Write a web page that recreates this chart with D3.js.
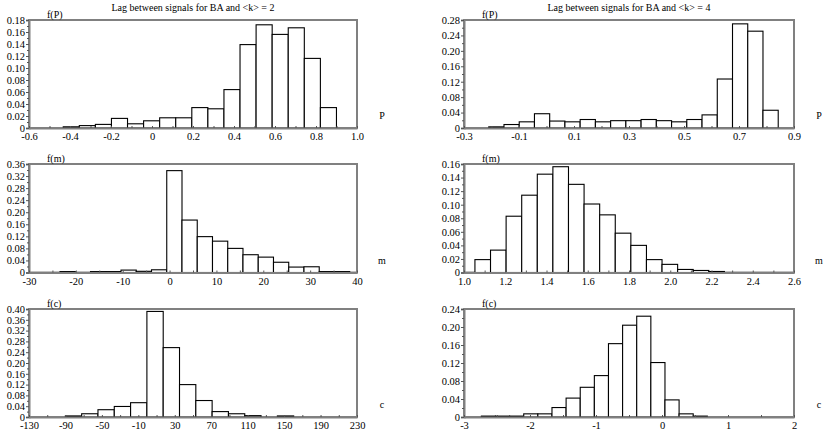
<!DOCTYPE html>
<html>
<head>
<meta charset="utf-8">
<script src="https://cdn.jsdelivr.net/npm/d3@7"></script>
<style>
body{margin:0;background:#fff;}
svg, svg text{font-family:"Liberation Serif","Times New Roman","DejaVu Serif",serif !important;}
</style>
</head>
<body>
<div id="chart"></div>
<script>
// histogram heights, one array per panel
var lag2P = [0.002,0.004,0.006,0.016,0.007,0.012,0.017,0.017,0.034,0.032,0.064,0.139,0.172,0.156,0.167,0.116,0.034];
var lag4P = [0.003,0.009,0.016,0.037,0.018,0.016,0.022,0.016,0.019,0.019,0.022,0.019,0.016,0.022,0.034,0.127,0.270,0.251,0.046];
var lag2M = [0.003,0,0.003,0.003,0.008,0.004,0.009,0.338,0.174,0.119,0.104,0.080,0.059,0.051,0.034,0.018,0.019,0.003,0.003];
var lag4M = [0.019,0.033,0.083,0.114,0.145,0.156,0.130,0.101,0.085,0.058,0.040,0.019,0.012,0.0045,0.003,0.0015];
var lag2C = [0.004,0.012,0.027,0.039,0.053,0.391,0.257,0.120,0.061,0.020,0.012,0.005,0,0.004];
var lag4C = [0.002,0.002,0.002,0.007,0.007,0.021,0.042,0.066,0.092,0.163,0.204,0.224,0.121,0.038,0.007,0.002];

// first bin edge and bin width
var binStart = [-0.433, -0.210, -23.38, 1.053, -90.1, -2.737];
var binWidth = [0.0784, 0.0554, 3.254, 0.0756, 17.9, 0.214];

// tick labels
var xTicksP2 = [-0.6,-0.4,-0.2,0,0.2,0.4,0.6,0.8,1.0];
var xTicksP4 = [-0.3,-0.1,0.1,0.3,0.5,0.7,0.9];
var xTicksM2 = [-30,-20,-10,0,10,20,30,40];
var xTicksM4 = [1.0,1.2,1.4,1.6,1.8,2.0,2.2,2.4,2.6];
var xTicksC2 = [-130,-90,-50,-10,30,70,110,150,190,230];
var xTicksC4 = [-3,-2,-1,0,1,2];
var yMax = [0.18, 0.28, 0.36, 0.16, 0.40, 0.24];
var yStep = [0.02, 0.04, 0.04, 0.02, 0.04, 0.04];

var titles = ["Lag between signals for BA and <k> = 2", "Lag between signals for BA and <k> = 4"];
var yNames = ["f(P)", "f(P)", "f(m)", "f(m)", "f(c)", "f(c)"];
var xNames = ["P", "P", "m", "m", "c", "c"];

var values = [lag2P, lag4P, lag2M, lag4M, lag2C, lag4C];
var xTicks = [xTicksP2, xTicksP4, xTicksM2, xTicksM4, xTicksC2, xTicksC4];
var xDec = [1, 1, 0, 1, 0, 0];

var cols = [[29, 357], [464, 794]];
var rows = [[20, 128], [164, 272.5], [309, 417]];

var width = 830, height = 433;
var serif = "'Liberation Serif','Times New Roman','DejaVu Serif',serif";
var svg = d3.select("#chart").append("svg").attr("width", width).attr("height", height)
	.style("font-family", serif);

function fmtX(dec) {
	return function(d) { return d === 0 ? "0" : d.toFixed(dec); };
}
function fmtY(d) {
	return Math.abs(d) < 1e-9 ? "0" : d.toFixed(2);
}

for (var p = 0; p < 6; p++) {
	var c = cols[p % 2], r = rows[Math.floor(p / 2)];
	var ticks = xTicks[p];
	var x = d3.scaleLinear().domain([ticks[0], ticks[ticks.length - 1]]).range([c[0], c[1]]);
	var y = d3.scaleLinear().domain([0, yMax[p]]).range([r[1], r[0]]);
	var g = svg.append("g");

	var bins = values[p].map(function(v, i) {
		return { x0: binStart[p] + i * binWidth[p], x1: binStart[p] + (i + 1) * binWidth[p], v: v };
	});

	// frame
	g.append("rect")
		.attr("x", c[0]).attr("y", r[0])
		.attr("width", c[1] - c[0]).attr("height", r[1] - r[0])
		.attr("fill", "none").attr("stroke", "#808080").attr("stroke-width", 2);

	// bars
	g.selectAll(".bar").data(bins.filter(function(d) { return d.v > 0; })).enter().append("rect")
		.attr("class", "bar")
		.attr("x", function(d) { return x(d.x0); })
		.attr("y", function(d) { return y(d.v); })
		.attr("width", function(d) { return x(d.x1) - x(d.x0); })
		.attr("height", function(d) { return y(0) - y(d.v); })
		.attr("fill", "#fff").attr("stroke", "#000").attr("stroke-width", 1.1);

	// y axis: labelled ticks plus half-step minor ticks
	var yt = d3.range(0, yMax[p] + yStep[p] / 2, yStep[p]);
	var ym = d3.range(yStep[p] / 2, yMax[p], yStep[p]);
	g.append("g").attr("transform", "translate(" + c[0] + ",0)")
		.call(d3.axisLeft(y).tickValues(yt).tickSize(3).tickPadding(1).tickFormat(fmtY));
	g.append("g").attr("transform", "translate(" + c[0] + ",0)")
		.call(d3.axisLeft(y).tickValues(ym).tickSize(2).tickFormat(""))
		.select(".domain").remove();

	// x axis: small inward ticks
	var xm = [];
	for (var k = 0; k < ticks.length - 1; k++) xm.push((ticks[k] + ticks[k + 1]) / 2);
	g.append("g").attr("transform", "translate(0," + r[1] + ")")
		.call(d3.axisBottom(x).tickValues(ticks).tickSizeInner(-2).tickSizeOuter(0).tickPadding(5).tickFormat(fmtX(xDec[p])));
	g.append("g").attr("transform", "translate(0," + r[1] + ")")
		.call(d3.axisBottom(x).tickValues(xm).tickSizeInner(-2).tickSizeOuter(0).tickFormat(""))
		.select(".domain").remove();

	g.selectAll("g").attr("font-family", null);
	g.selectAll(".domain").attr("stroke", "#808080").attr("stroke-width", 2);
	g.selectAll(".tick line").attr("stroke", "#555");
	g.selectAll(".tick text").style("font-family", serif)
		.attr("font-size", 10.5).attr("fill", "#000");

	// labels
	g.append("text").attr("x", c[0] + 18).attr("y", r[0] - 2)
		.attr("font-size", 10).text(yNames[p]);
	g.append("text").attr("x", c[1] + 25).attr("y", r[1] - 9)
		.attr("font-size", 10).attr("text-anchor", "middle").text(xNames[p]);
	if (p < 2) {
		g.append("text").attr("x", (c[0] + c[1]) / 2).attr("y", 11)
			.attr("font-size", 10).attr("text-anchor", "middle").text(titles[p]);
	}
}
</script>
</body>
</html>
